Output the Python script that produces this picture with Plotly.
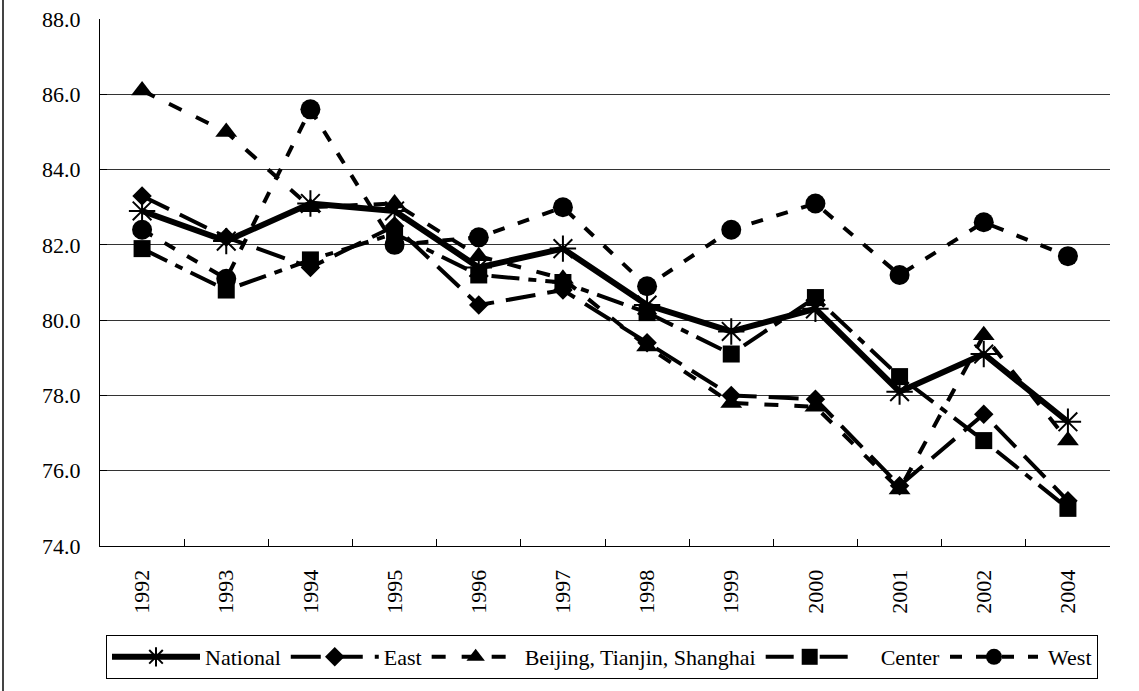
import plotly.graph_objects as go

years = ["1992", "1993", "1994", "1995", "1996", "1997", "1998", "1999", "2000", "2001", "2002", "2004"]
national = [82.9, 82.1, 83.1, 82.9, 81.4, 81.9, 80.4, 79.7, 80.3, 78.1, 79.1, 77.3]
east = [83.3, 82.2, 81.4, 82.5, 80.4, 80.8, 79.4, 78.0, 77.9, 75.6, 77.5, 75.2]
bts = [86.1, 85.0, 83.0, 83.1, 81.7, 81.1, 79.3, 77.8, 77.7, 75.5, 79.6, 76.8]
center = [81.9, 80.8, 81.6, 82.3, 81.2, 81.0, 80.2, 79.1, 80.6, 78.5, 76.8, 75.0]
west = [82.4, 81.1, 85.6, 82.0, 82.2, 83.0, 80.9, 82.4, 83.1, 81.2, 82.6, 81.7]

W, H = 1139, 691
L, R, T, B = 100, 29, 19, 145
pw = W - L - R
ph = H - T - B
FONT = "'Liberation Serif', 'DejaVu Serif', serif"

fig = go.Figure()

fig.add_trace(go.Scatter(x=years, y=national, name="National", mode="lines+markers",
                         line=dict(color="black", width=6, dash="solid"),
                         marker=dict(symbol="asterisk-open", size=22, color="black",
                                     line=dict(color="black", width=2))))
fig.add_trace(go.Scatter(x=years, y=east, name="East", mode="lines+markers",
                         line=dict(color="black", width=4, dash="30px,12px"),
                         marker=dict(symbol="diamond", size=15, color="black")))
fig.add_trace(go.Scatter(x=years, y=bts, name="Beijing, Tianjin, Shanghai", mode="lines+markers",
                         line=dict(color="black", width=4, dash="14px,16px"),
                         marker=dict(symbol="triangle-up", size=19, color="black")))
fig.add_trace(go.Scatter(x=years, y=center, name="    Center", mode="lines+markers",
                         line=dict(color="black", width=4, dash="28px,9px,8px,9px"),
                         marker=dict(symbol="square", size=17, color="black")))
fig.add_trace(go.Scatter(x=years, y=west, name=" West", mode="lines+markers",
                         line=dict(color="black", width=4, dash="12px,14px"),
                         marker=dict(symbol="circle", size=20, color="black")))

fig.update_xaxes(type="category", range=[-0.5, 11.5], tickson="boundaries",
                 ticks="inside", ticklen=7, tickcolor="black", showline=True,
                 linecolor="black", linewidth=1, showgrid=False, tickangle=-90,
                 ticklabelstandoff=14,
                 tickfont=dict(family=FONT, size=22, color="black"))
fig.update_yaxes(range=[74, 88], dtick=2, tick0=74, tickformat=".1f",
                 ticks="inside", ticklen=7, tickcolor="black", showline=True,
                 linecolor="black", linewidth=1, showgrid=True, gridcolor="#333333",
                 gridwidth=1, zeroline=False, ticklabelstandoff=14,
                 tickfont=dict(family=FONT, size=22, color="black"))

fig.update_layout(
    width=W, height=H,
    margin=dict(l=L, r=R, t=T, b=B, autoexpand=False),
    paper_bgcolor="white", plot_bgcolor="white",
    font=dict(family=FONT, size=22, color="black"),
    showlegend=True,
    legend=dict(orientation="h", x=(106 - L) / pw, y=-(635 - (H - B)) / ph,
                xanchor="left", yanchor="top", bordercolor="black", borderwidth=1,
                itemwidth=88, tracegroupgap=0, traceorder="normal",
                font=dict(family=FONT, size=22, color="black"),
                bgcolor="white"),
    shapes=[dict(type="line", xref="paper", yref="paper",
                 x0=(3 - L) / pw, x1=(3 - L) / pw, y0=-(B) / ph, y1=(H - B) / ph,
                 line=dict(color="#444444", width=2))],
)

fig.write_html("out.html", config={"displayModeBar": False},
               post_script="document.body.style.margin='0';document.body.style.padding='0';")
